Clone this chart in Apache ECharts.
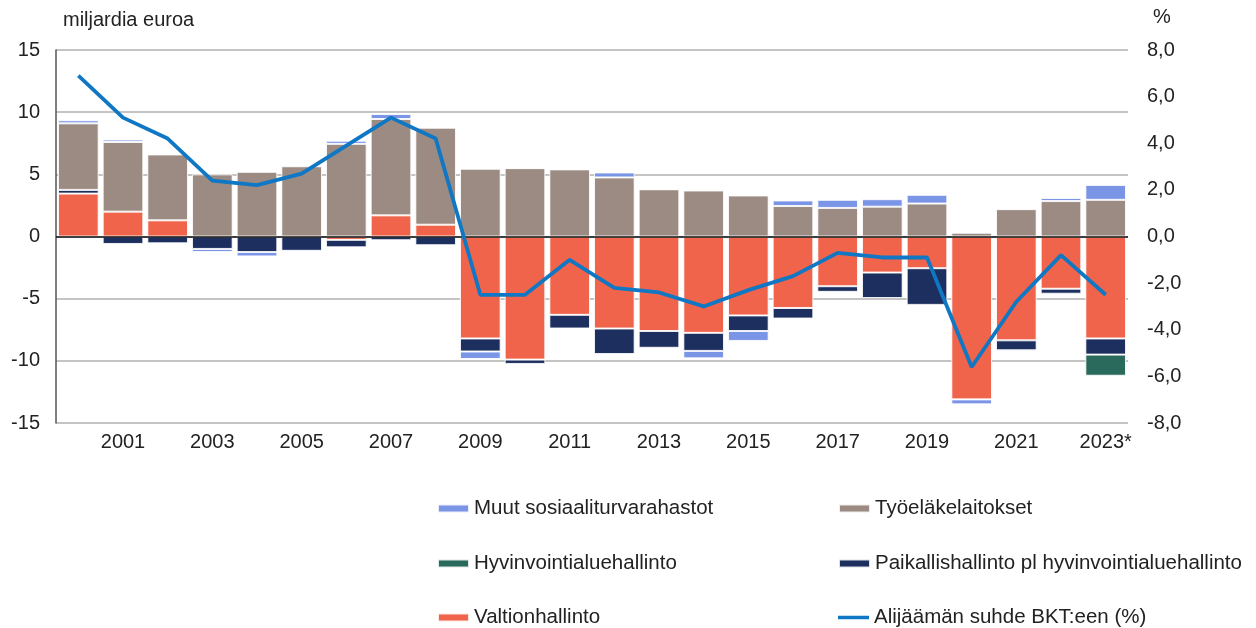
<!DOCTYPE html>
<html>
<head>
<meta charset="utf-8">
<script src="https://cdn.jsdelivr.net/npm/echarts@6/dist/echarts.min.js"></script>
<style>html,body{margin:0;padding:0;background:#fff;}#c{width:1256px;height:628px;}</style>
</head>
<body>
<div id="c"></div>
<script>
const years = ['2000','2001','2002','2003','2004','2005','2006','2007','2008','2009','2010','2011','2012','2013','2014','2015','2016','2017','2018','2019','2020','2021','2022','2023*'];
const valtionhallinto = [3.45,2.0,1.3,0,0,0,-0.27,1.7,0.95,-8.2,-9.9,-6.3,-7.4,-7.6,-7.75,-6.35,-5.75,-4.0,-2.9,-2.55,-13.1,-8.35,-4.2,-8.2];
const paikallishallinto = [0.3,-0.6,-0.55,-1.0,-1.25,-1.15,-0.6,-0.3,-0.7,-1.05,-0.35,-1.1,-2.05,-1.35,-1.45,-1.25,-0.85,-0.45,-2.05,-2.95,0,-0.8,-0.4,-1.3];
const hyvinvointialue = [null,null,null,null,null,null,null,null,null,null,null,null,null,null,null,null,null,null,null,null,null,null,null,-1.7];
const tyoelakelaitokset = [5.35,5.6,5.3,5.0,5.2,5.65,7.45,7.75,7.8,5.45,5.5,5.4,4.75,3.8,3.7,3.3,2.45,2.3,2.4,2.65,0.3,2.2,2.85,2.95];
const muutRahastot = [0.25,0.2,0.05,-0.25,-0.35,-0.1,0.25,0.4,0.05,-0.6,0,0,0.4,0,-0.6,-0.8,0.45,0.65,0.6,0.7,-0.4,-0.1,0.25,1.2];
const alijaamaBkt = [6.9,5.1,4.2,2.4,2.2,2.7,3.9,5.1,4.2,-2.5,-2.5,-1.0,-2.2,-2.4,-3.0,-2.3,-1.7,-0.7,-0.9,-0.9,-5.6,-2.8,-0.8,-2.5];

const leftTicks = {min:-15, max:15, interval:5};
const rightTicks = {min:-8, max:8, interval:2};

const FONT = 'Liberation Sans, Arial, sans-serif';
const TXT = '#222';
const names = {
  muut: 'Muut sosiaaliturvarahastot',
  tyo: 'Työeläkelaitokset',
  hyv: 'Hyvinvointialuehallinto',
  paik: 'Paikallishallinto pl hyvinvointialuehallinto',
  valt: 'Valtionhallinto',
  line: 'Alijäämän suhde BKT:een (%)'
};
const colors = {muut:'#7b95e6', tyo:'#9b8b82', hyv:'#2a6a5c', paik:'#1c2f5e', valt:'#f0644b', line:'#0f77c4'};

function barSeries(name, data, color, extra) {
  return Object.assign({
    name: name, type: 'bar', stack: 'total', data: data,
    barCategoryGap: '9%',
    itemStyle: {color: color, borderColor: 'rgba(255,255,255,0.85)', borderWidth: 1},
    emphasis: {disabled: true}
  }, extra || {});
}

function legendItem(name, left, top, iconH) {
  return {
    left: left, top: top, orient: 'horizontal', padding: 0, itemWidth: 31, itemHeight: iconH || 8,
    selectedMode: false,
    textStyle: {fontFamily: FONT, fontSize: 20.5, color: TXT, lineHeight: 20},
    data: [{name: name, icon: 'rect'}]
  };
}

const chart = echarts.init(document.getElementById('c'), null, {renderer: 'canvas'});
chart.setOption({
  animation: false,
  grid: {left: 56, right: 128, top: 50, bottom: 205, containLabel: false},
  graphic: [
    {type: 'text', left: 63, top: 10, style: {text: 'miljardia euroa', font: '20px ' + FONT, fill: TXT}},
    {type: 'text', left: 1153, top: 7, style: {text: '%', font: '20px ' + FONT, fill: TXT}}
  ],
  legend: [
    legendItem(names.muut, 437, 498),
    legendItem(names.hyv, 437, 553),
    legendItem(names.valt, 437, 607),
    legendItem(names.tyo, 838, 498),
    legendItem(names.paik, 838, 553),
    legendItem(names.line, 838, 607, 3.5)
  ],
  xAxis: {
    type: 'category', data: years,
    axisLine: {show: false}, axisTick: {show: false},
    axisLabel: {
      interval: function (i) { return i % 2 === 1; },
      margin: 9, fontFamily: FONT, fontSize: 20, color: TXT
    }
  },
  yAxis: [
    {
      type: 'value', min: leftTicks.min, max: leftTicks.max, interval: leftTicks.interval,
      axisLine: {show: true, lineStyle: {color: '#555', width: 1.5}},
      axisTick: {show: false},
      splitLine: {show: true, lineStyle: {color: '#b0b0b0', width: 1.5}},
      axisLabel: {margin: 16, fontFamily: FONT, fontSize: 20, color: TXT}
    },
    {
      type: 'value', min: rightTicks.min, max: rightTicks.max, interval: rightTicks.interval,
      axisLine: {show: false}, axisTick: {show: false}, splitLine: {show: false},
      axisLabel: {
        margin: 19, fontFamily: FONT, fontSize: 20, color: TXT,
        formatter: function (v) { return v.toFixed(1).replace('.', ','); }
      }
    }
  ],
  series: [
    barSeries(names.valt, valtionhallinto, colors.valt, {
      markLine: {
        silent: true, symbol: 'none', label: {show: false},
        lineStyle: {color: '#111', width: 1.5, type: 'solid'},
        data: [{yAxis: 0}]
      }
    }),
    barSeries(names.paik, paikallishallinto, colors.paik),
    barSeries(names.hyv, hyvinvointialue, colors.hyv),
    barSeries(names.tyo, tyoelakelaitokset, colors.tyo),
    barSeries(names.muut, muutRahastot, colors.muut),
    {
      name: names.line, type: 'line', yAxisIndex: 1, data: alijaamaBkt,
      symbol: 'none', showSymbol: false, z: 5,
      lineStyle: {color: colors.line, width: 3.8},
      itemStyle: {color: colors.line},
      emphasis: {disabled: true}
    }
  ]
});
</script>
</body>
</html>
